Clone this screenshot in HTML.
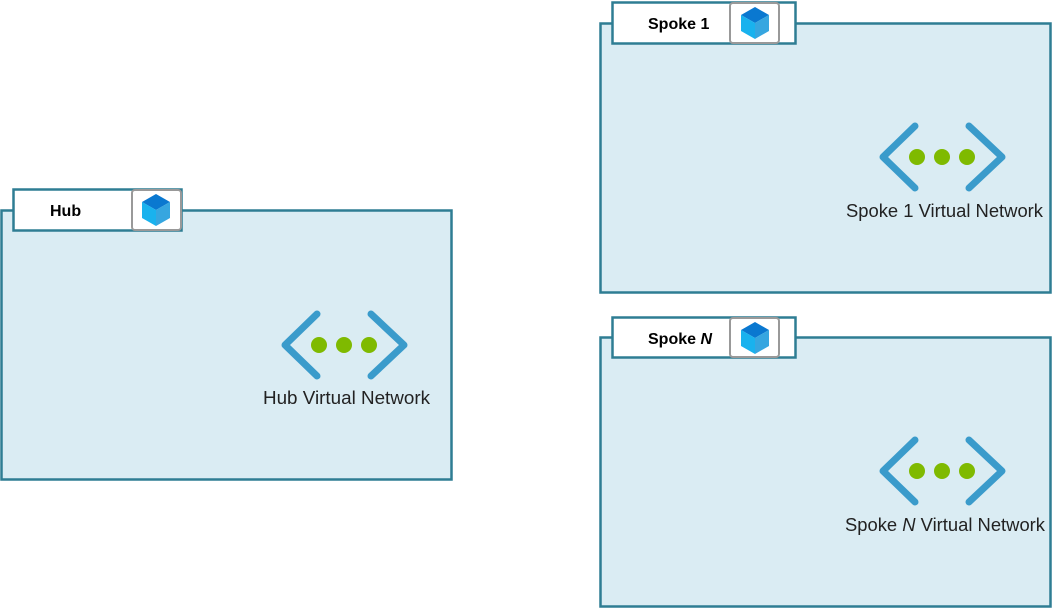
<!DOCTYPE html>
<html><head><style>body{margin:0;background:#fff}svg{display:block}</style></head><body>
<svg width="1056" height="609" viewBox="0 0 1056 609" xmlns="http://www.w3.org/2000/svg" font-family="'Liberation Sans', sans-serif">
<defs>
<g id="cube">
<polygon points="0,-16 14,-8 0,0 -14,-8" fill="#0a78d0"/>
<polygon points="-14,-8 0,0 0,16 -14,8" fill="#19b2ee"/>
<polygon points="14,-8 0,0 0,16 14,8" fill="#36a6e0"/>
</g>
<g id="net">
<polyline points="27,-31 60,0 27,31" fill="none" stroke="#3a9bcb" stroke-width="7" stroke-linecap="round" stroke-linejoin="round"/>
<polyline points="-27,-31 -59,0 -27,31" fill="none" stroke="#3a9bcb" stroke-width="7" stroke-linecap="round" stroke-linejoin="round"/>
<circle cx="-25" cy="0" r="8" fill="#7fba00"/>
<circle cx="0" cy="0" r="8" fill="#7fba00"/>
<circle cx="25" cy="0" r="8" fill="#7fba00"/>
</g>
</defs>
<g stroke="#2e7d93" stroke-width="2.5">
<rect x="1.5" y="210.5" width="450" height="269" fill="#daecf3"/>
<rect x="600.5" y="23.5" width="450" height="269" fill="#daecf3"/>
<rect x="600.5" y="337.5" width="450" height="269" fill="#daecf3"/>
<rect x="13.5" y="189.5" width="168" height="41" fill="#fff"/>
<rect x="612.5" y="2.5" width="183" height="41" fill="#fff"/>
<rect x="612.5" y="317.5" width="183" height="40" fill="#fff"/>
</g>
<g fill="#fff" stroke="#999" stroke-width="2">
<rect x="132" y="190" width="49" height="40" rx="3"/>
<rect x="730" y="3" width="49" height="40" rx="3"/>
<rect x="730" y="318" width="49" height="39" rx="3"/>
</g>
<use href="#cube" x="156" y="210"/>
<use href="#cube" x="755" y="23"/>
<use href="#cube" x="755" y="338"/>
<g font-weight="bold" font-size="16" fill="#000">
<text x="50" y="216">Hub</text>
<text x="648" y="29">Spoke 1</text>
<text x="648" y="344">Spoke <tspan font-style="italic">N</tspan></text>
</g>
<use href="#net" x="344" y="345"/>
<use href="#net" x="942" y="157"/>
<use href="#net" x="942" y="471"/>
<g font-size="18" fill="#222">
<text x="263" y="404" textLength="167" lengthAdjust="spacingAndGlyphs">Hub Virtual Network</text>
<text x="846" y="217" textLength="197" lengthAdjust="spacingAndGlyphs">Spoke 1 Virtual Network</text>
<text x="845" y="531" textLength="200" lengthAdjust="spacingAndGlyphs">Spoke <tspan font-style="italic">N</tspan> Virtual Network</text>
</g>
</svg>
</body></html>
